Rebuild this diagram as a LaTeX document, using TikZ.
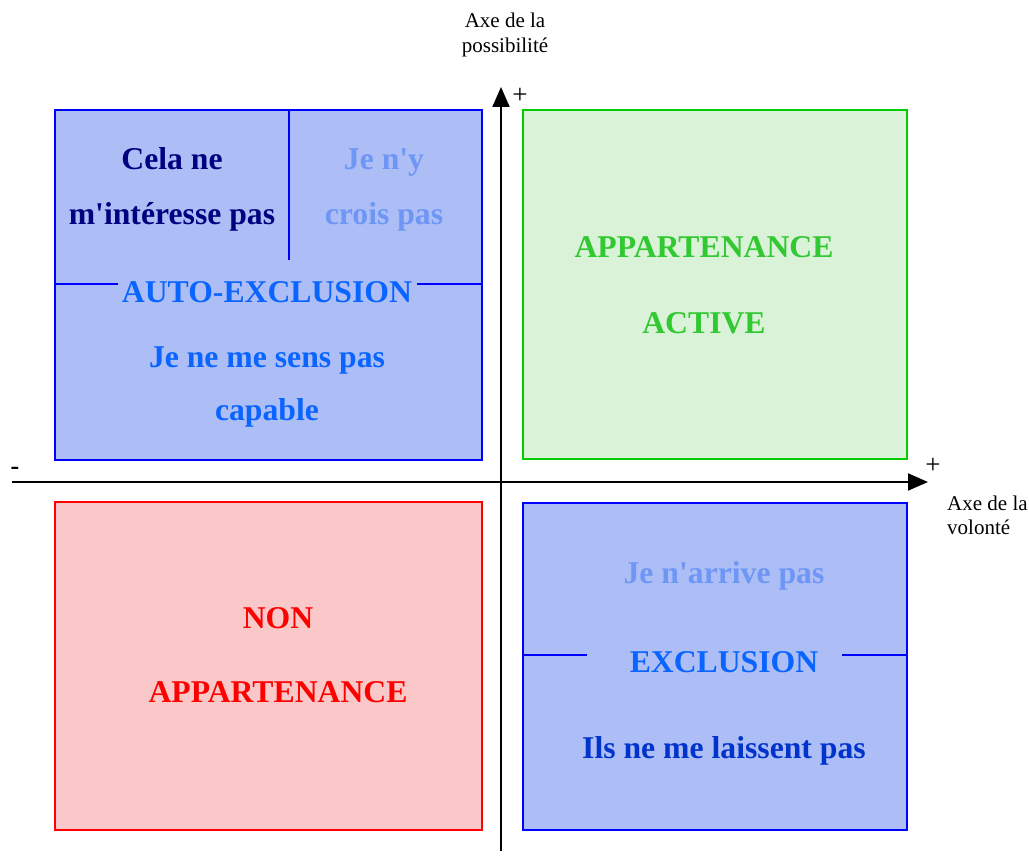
\documentclass[tikz,border=0pt]{standalone}
\usepackage{fontspec}
\setmainfont{Liberation Serif}
\usetikzlibrary{arrows.meta}
\definecolor{bluefill}{RGB}{172,190,245}
\definecolor{greenfill}{RGB}{218,242,216}
\definecolor{redfill}{RGB}{250,200,200}
\definecolor{boxblue}{RGB}{0,0,255}
\definecolor{boxgreen}{RGB}{0,204,0}
\definecolor{boxred}{RGB}{255,0,0}
\definecolor{navy}{RGB}{0,0,128}
\definecolor{paleblue}{RGB}{110,150,245}
\definecolor{brightblue}{RGB}{10,100,255}
\definecolor{deepblue}{RGB}{0,51,204}
\definecolor{txtgreen}{RGB}{50,200,50}
\newcommand{\sq}{\textquotesingle}
\begin{document}
\begin{tikzpicture}[x=1pt,y=-1pt,
  quad/.style={draw, line width=2pt, anchor=north west, inner sep=0pt},
  big/.style={font=\fontsize{31.7}{36}\selectfont\bfseries, anchor=base, inner sep=0pt},
  axlabel/.style={font=\fontsize{21}{25}\selectfont, inner sep=0pt},
  sign/.style={font=\fontsize{27}{27}\selectfont, inner sep=0pt, anchor=base},
  axis/.style={line width=2pt, -{Triangle[length=20pt,width=17pt]}},
  divider/.style={boxblue, line width=1.5pt}]
\useasboundingbox (0,0) rectangle (1029,856);
% boxes
\node[quad, draw=boxblue, fill=bluefill, minimum width=427pt, minimum height=350pt] (auto) at (54,109) {};
\node[quad, draw=boxgreen, fill=greenfill, minimum width=384pt, minimum height=349pt] (active) at (522,109) {};
\node[quad, draw=boxred, fill=redfill, minimum width=427pt, minimum height=328pt] (non) at (54,501) {};
\node[quad, draw=boxblue, fill=bluefill, minimum width=384pt, minimum height=327pt] (excl) at (522,502) {};
% dividers in auto-exclusion box
\coordinate (vd1) at (289,109);
\coordinate (vd2) at (289,260);
\draw[divider] (vd1) -- (vd2);
\coordinate (hl1) at (54,284);
\coordinate (hl2) at (118,284);
\coordinate (hl3) at (417,284);
\coordinate (hl4) at (481,284);
\draw[divider] (hl1) -- (hl2);
\draw[divider] (hl3) -- (hl4);
% dividers in exclusion box
\coordinate (el1) at (522,655);
\coordinate (el2) at (587,655);
\coordinate (el3) at (842,655);
\coordinate (el4) at (906,655);
\draw[divider] (el1) -- (el2);
\draw[divider] (el3) -- (el4);
% texts auto-exclusion
\node[big, text=navy] (t1) at (172,170) {Cela ne};
\node[big, text=navy] (t2) at (172,225) {m\sq intéresse pas};
\node[big, text=paleblue] (t3) at (384,170) {Je n\sq y};
\node[big, text=paleblue] (t4) at (384,225) {crois pas};
\node[big, text=brightblue] (t5) at (267,302) {AUTO-EXCLUSION};
\node[big, text=brightblue] (t6) at (267,367) {Je ne me sens pas};
\node[big, text=brightblue] (t7) at (267,420) {capable};
% active
\node[big, text=txtgreen] (a1) at (704,258) {APPARTENANCE};
\node[big, text=txtgreen] (a2) at (704,333) {ACTIVE};
% non
\node[big, text=boxred] (n1) at (278,628) {NON};
\node[big, text=boxred] (n2) at (278,702) {APPARTENANCE};
% exclusion
\node[big, text=paleblue] (e1) at (724,583) {Je n\sq arrive pas};
\node[big, text=brightblue] (e2) at (724,672) {EXCLUSION};
\node[big, text=deepblue] (e3) at (724,758) {Ils ne me laissent pas};
% axes
\coordinate (vbot) at (501,851);
\coordinate (vtop) at (501,87);
\coordinate (hleft) at (12,482);
\coordinate (hright) at (928,482);
\draw[axis] (vbot) -- (vtop);
\draw[axis] (hleft) -- (hright);
\node[sign] (p1) at (520,104) {+};
\node[sign] (p2) at (933,473) {+};
\node[font=\fontsize{26}{26}\selectfont\bfseries, inner sep=0pt, anchor=base] (m1) at (15,474) {-};
\node[axlabel, anchor=base] (ax1) at (505,28) {Axe de la};
\node[axlabel, anchor=base] (ax2) at (505,53) {possibilité};
\node[axlabel, anchor=base west] (ax3) at (947,510) {Axe de la};
\node[axlabel, anchor=base west] (ax4) at (947,534) {volonté};
\end{tikzpicture}
\end{document}
